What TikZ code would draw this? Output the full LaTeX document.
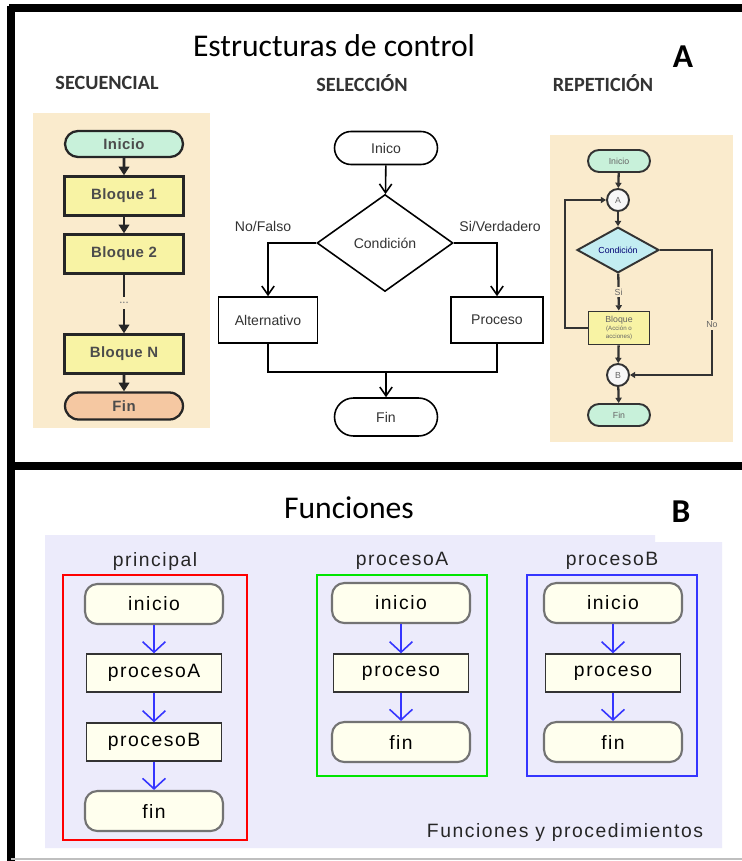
\documentclass[tikz,border=0pt]{standalone}
\usepackage{fontspec}
\setmainfont{Carlito}
\newfontfamily\arialf{Liberation Sans}
\newfontfamily\arialsp[LetterSpace=8]{Liberation Sans}
\newfontfamily\arialth[LetterSpace=3]{Liberation Sans}
\usetikzlibrary{positioning,shapes.geometric,shapes.misc,arrows.meta}
\definecolor{beige}{HTML}{FAEBCD}
\definecolor{seqgreen}{HTML}{C8F1DA}
\definecolor{seqyellow}{HTML}{F8F3A4}
\definecolor{seqorange}{HTML}{F5C8A2}
\definecolor{repcyan}{HTML}{C3EDF2}
\definecolor{lavender}{HTML}{ECEBFB}
\definecolor{ivory}{HTML}{FFFFEE}
\definecolor{fnblue}{HTML}{3535FF}
\tikzset{heading/.style={font=\fontsize{11.5}{12}\selectfont\bfseries, text=black!80}}
\tikzset{seqterm/.style={rounded rectangle, draw=black!85, line width=1.3pt, minimum width=2.36cm, minimum height=0.52cm, inner sep=0pt, font=\fontsize{8.5}{9}\arialth\bfseries, text=black!70}}
\tikzset{seqbox/.style={rectangle, draw=black!85, line width=1.3pt, fill=seqyellow, minimum width=2.38cm, minimum height=0.78cm, inner sep=0pt, font=\fontsize{8.5}{9}\arialth\bfseries, text=black!70}}
\tikzset{arr/.style={draw=black!85, line width=1.6pt, -{Triangle[length=5pt,width=6pt]}}}
\tikzset{selterm/.style={rounded rectangle, draw, fill=white, line width=0.9pt, minimum width=2.06cm, minimum height=0.66cm, inner sep=0pt, font=\fontsize{8}{9}\arialf, text=black!80}}
\tikzset{selbox/.style={rectangle, draw, fill=white, line width=0.9pt, minimum height=0.92cm, inner sep=0pt, font=\fontsize{8}{9}\arialf, text=black!80}}
\tikzset{sellbl/.style={font=\fontsize{8}{9}\arialf, text=black!80}}
\tikzset{selarr/.style={draw, line width=0.9pt, -{Straight Barb[length=5pt,width=7pt]}}}
\tikzset{repterm/.style={rounded rectangle, draw=black!80, line width=1.1pt, fill=seqgreen, minimum width=1.24cm, minimum height=0.44cm, inner sep=0pt, font=\fontsize{5}{5}\arialf, text=black!60}}
\tikzset{repcirc/.style={circle, draw=black!80, line width=1.1pt, fill=black!3, minimum size=0.44cm, inner sep=0pt, font=\fontsize{5}{5}\arialf, text=black!60}}
\tikzset{rarr/.style={draw=black!80, line width=1.3pt, -{Triangle[length=3pt,width=3.5pt]}}}
\tikzset{fnterm/.style={rectangle, rounded corners=7pt, draw=black!55, line width=1.2pt, fill=ivory, minimum width=2.76cm, minimum height=0.8cm, inner sep=0pt, font=\fontsize{11}{12}\arialsp}}
\tikzset{fnbox/.style={rectangle, draw=black!80, line width=0.8pt, fill=ivory, minimum width=2.7cm, minimum height=0.76cm, inner sep=0pt, font=\fontsize{11}{12}\arialsp}}
\tikzset{barr/.style={draw=fnblue, line width=0.9pt, -{Straight Barb[length=6pt,width=13pt]}}}
\tikzset{fnlbl/.style={font=\fontsize{11}{12}\arialsp, text=black!85}}

\begin{document}
\begin{tikzpicture}[x=0.02cm, y=-0.02cm]
    \useasboundingbox (0,0) rectangle (742,861);
    \fill[white] (0,0) rectangle (742,861);
    % frame
    \draw[line width=4pt] (11,6) -- (11,861);
    \draw[line width=4pt] (9,8) -- (742,8);
    \draw[line width=4pt] (11,466) -- (742,466);
    \draw[black!25, line width=1.5pt] (11,859) -- (742,859);

    % A: estructuras de control
    \node (titA) at (334,46) {\fontsize{18}{20}\selectfont Estructuras de control};
    \node (letA) at (683,57) {\fontsize{19}{20}\selectfont\bfseries A};
    \node[heading] (hsec) at (107,83) {SECUENCIAL};
    \node[heading] (hsel) at (362,83) {SELECCIÓN};
    \node[heading] (hrep) at (603,83) {REPETICIÓN};

    % secuencial
    \fill[beige] (33,113) rectangle (210,428);
    \node[seqterm, fill=seqgreen] (sini) at (124,144) {Inicio};
    \node[seqbox] (sb1) at (124,196) {Bloque 1};
    \node[seqbox] (sb2) at (124,254) {Bloque 2};
    \node[font=\scriptsize, text=black!50, inner sep=3pt] (sdots) at (124,303) {...};
    \node[seqbox] (sbn) at (124,354) {Bloque N};
    \node[seqterm, fill=seqorange, minimum height=0.54cm] (sfin) at (124,406) {Fin};
    \draw[arr] (sini) -- (sb1);
    \draw[arr] (sb1) -- (sb2);
    \draw[draw=black!85, line width=1.6pt] (sb2) -- (sdots);
    \draw[arr] (sdots) -- (sbn);
    \draw[arr] (sbn) -- (sfin);

    % seleccion
    \node[selterm] (eini) at (386,148) {Inico};
    \node[diamond, draw, fill=white, line width=0.9pt, minimum width=2.72cm, minimum height=1.94cm, inner sep=0pt, font=\fontsize{8}{9}\arialf, text=black!80] (econd) at (385,243) {Condición};
    \node[selbox, minimum width=1.98cm] (ealt) at (268,320) {Alternativo};
    \node[selbox, minimum width=1.84cm] (eproc) at (497,320) {Proceso};
    \node[selterm, minimum height=0.76cm] (efin) at (386,417) {Fin};
    \coordinate (emerge) at (386,372);
    \node[sellbl] (eno) at (263,226) {No/Falso};
    \node[sellbl] (esi) at (500,226) {Si/Verdadero};
    \draw[selarr] (eini) -- (econd);
    \draw[selarr] (econd.west) -| (ealt);
    \draw[selarr] (econd.east) -| (eproc);
    \draw[line width=0.9pt] (ealt.south) |- (emerge) -| (eproc.south);
    \draw[selarr] (emerge) -- (efin);

    % repeticion
    \fill[beige] (550,135) rectangle (733,442);
    \node[repterm] (rini) at (619,161) {Inicio};
    \node[repcirc] (ra) at (618,200) {A};
    \node[diamond, draw=black!80, line width=1.1pt, fill=repcyan, minimum width=1.64cm, minimum height=0.6cm, inner sep=0pt, font=\fontsize{5}{5}\arialf, text=black!55!blue] (rcond) at (618,250) {Condición};
    \node[rectangle, draw=black!80, line width=1.1pt, fill=seqyellow, minimum width=1.22cm, minimum height=0.66cm, inner sep=0pt, align=center, font=\fontsize{5}{4.5}\arialf, text=black!60] (rblq) at (619,328) {Bloque\\{\fontsize{3.5}{4}\selectfont (Acción o}\\{\fontsize{3.5}{4}\selectfont acciones)}};
    \node[repcirc] (rb) at (618,375) {B};
    \node[repterm] (rfin) at (619,415) {Fin};
    \coordinate (rloop) at (565,328);
    \coordinate (rno) at (712,250);
    \draw[rarr] (rini) -- (ra);
    \draw[rarr] (ra) -- (rcond);
    \draw[rarr] (rcond) -- (rblq) node[midway, fill=beige, inner sep=1pt, font=\fontsize{5}{5}\arialf, text=black!60] {Si};
    \draw[rarr] (rblq) -- (rb);
    \draw[rarr] (rb) -- (rfin);
    \draw[rarr] (rblq.west) -- (rloop) |- (ra.west);
    \draw[rarr] (rcond.east) -- (rno) |- (rb.east) node[pos=0.3, fill=beige, inner sep=1pt, font=\fontsize{5}{5}\arialf, text=black!60] {No};

    % B: funciones
    \node (titB) at (349,508) {\fontsize{18}{20}\selectfont Funciones};
    \node (letB) at (681,512) {\fontsize{19}{20}\selectfont\bfseries B};
    \fill[lavender] (45,535) -- (655,535) -- (655,542) -- (722,542) -- (722,848) -- (45,848) -- cycle;
    \node[fnlbl] (lprin) at (155,561) {principal};
    \node[fnlbl] (lpa) at (402,561) {procesoA};
    \node[fnlbl] (lpb) at (612,561) {procesoB};
    \draw[red, line width=0.9pt] (63,575) rectangle (247,840);
    \draw[green!90!black, line width=0.9pt] (317,575) rectangle (487,776);
    \draw[fnblue, line width=0.9pt] (527,575) rectangle (697,776);

    % principal
    \node[fnterm] (pini) at (154,604) {inicio};
    \node[fnbox] (ppa) at (154,673) {procesoA};
    \node[fnbox] (ppb) at (154,742) {procesoB};
    \node[fnterm] (pfin) at (154,811) {fin};
    \draw[barr] (pini) -- (ppa);
    \draw[barr] (ppa) -- (ppb);
    \draw[barr] (ppb) -- (pfin);

    % procesoA
    \node[fnterm] (aini) at (401,603) {inicio};
    \node[fnbox] (aproc) at (401,673) {proceso};
    \node[fnterm] (afin) at (401,742) {fin};
    \draw[barr] (aini) -- (aproc);
    \draw[barr] (aproc) -- (afin);

    % procesoB
    \node[fnterm] (bini) at (613,603) {inicio};
    \node[fnbox] (bproc) at (613,673) {proceso};
    \node[fnterm] (bfin) at (613,742) {fin};
    \draw[barr] (bini) -- (bproc);
    \draw[barr] (bproc) -- (bfin);

    \node[fnlbl] (lfyp) at (565,832) {Funciones y procedimientos};
\end{tikzpicture}
\end{document}
